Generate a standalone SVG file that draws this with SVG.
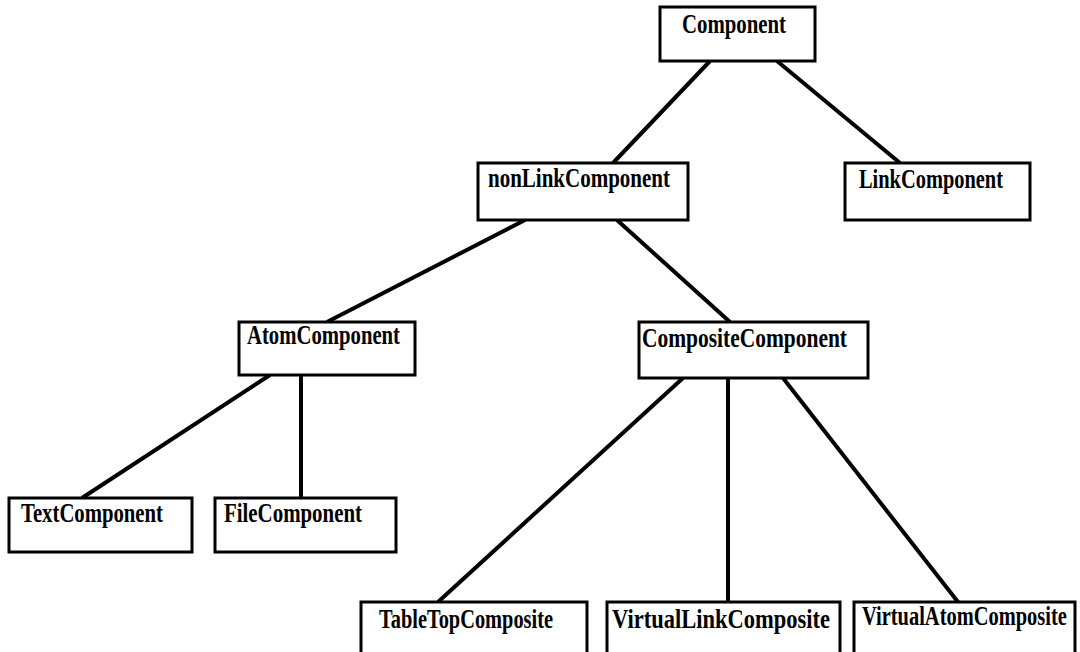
<svg xmlns="http://www.w3.org/2000/svg" width="1080" height="652" viewBox="0 0 1080 652">
  <style>
    .box { fill: #ffffff; stroke: #000000; stroke-width: 3; }
    .lbl { font-family: "Liberation Serif", "Times New Roman", serif; font-weight: bold; font-size: 27px; fill: #000000; }
    .edge { stroke: #000000; stroke-width: 4; fill: none; }
  </style>
  <rect width="1080" height="652" fill="#ffffff"/>

  <!-- inheritance links -->
  <g id="connectors">
    <line class="edge" x1="710" y1="61" x2="613" y2="163"/>
    <line class="edge" x1="777" y1="61" x2="900" y2="163"/>
    <line class="edge" x1="525" y1="220" x2="327" y2="322"/>
    <line class="edge" x1="617" y1="220" x2="730" y2="322"/>
    <line class="edge" x1="270" y1="375" x2="82" y2="498"/>
    <line class="edge" x1="301" y1="375" x2="301" y2="498"/>
    <line class="edge" x1="683" y1="378" x2="438" y2="602"/>
    <line class="edge" x1="728" y1="378" x2="728" y2="602"/>
    <line class="edge" x1="783" y1="378" x2="958" y2="602"/>
  </g>

  <g id="component">
    <rect class="box" x="660" y="7" width="155" height="54"/>
    <text class="lbl" x="682" y="33" textLength="104" lengthAdjust="spacingAndGlyphs">Component</text>
  </g>
  <g id="nonLinkComponent">
    <rect class="box" x="478" y="163" width="210" height="57"/>
    <text class="lbl" x="488" y="187" textLength="182" lengthAdjust="spacingAndGlyphs">nonLinkComponent</text>
  </g>
  <g id="linkComponent">
    <rect class="box" x="845" y="163" width="185" height="57"/>
    <text class="lbl" x="859" y="188" textLength="144" lengthAdjust="spacingAndGlyphs">LinkComponent</text>
  </g>
  <g id="atomComponent">
    <rect class="box" x="239" y="322" width="176" height="53"/>
    <text class="lbl" x="247" y="344" textLength="153" lengthAdjust="spacingAndGlyphs">AtomComponent</text>
  </g>
  <g id="compositeComponent">
    <rect class="box" x="639" y="322" width="229" height="56"/>
    <text class="lbl" x="642" y="347" textLength="205" lengthAdjust="spacingAndGlyphs">CompositeComponent</text>
  </g>
  <g id="textComponent">
    <rect class="box" x="9" y="498" width="183" height="54"/>
    <text class="lbl" x="21" y="522" textLength="142" lengthAdjust="spacingAndGlyphs">TextComponent</text>
  </g>
  <g id="fileComponent">
    <rect class="box" x="215" y="498" width="181" height="54"/>
    <text class="lbl" x="224" y="522" textLength="138" lengthAdjust="spacingAndGlyphs">FileComponent</text>
  </g>
  <g id="tableTopComposite">
    <rect class="box" x="361" y="602" width="226" height="70"/>
    <text class="lbl" x="379" y="628" textLength="174" lengthAdjust="spacingAndGlyphs">TableTopComposite</text>
  </g>
  <g id="virtualLinkComposite">
    <rect class="box" x="607" y="602" width="233" height="70"/>
    <text class="lbl" x="612" y="628" textLength="218" lengthAdjust="spacingAndGlyphs">VirtualLinkComposite</text>
  </g>
  <g id="virtualAtomComposite">
    <rect class="box" x="854" y="602" width="221" height="70"/>
    <!-- condensed by a horizontal scale so the label fits the box near the right edge -->
    <text class="lbl" transform="translate(862 625) scale(0.756 1)" x="0" y="0" textLength="271" lengthAdjust="spacingAndGlyphs">VirtualAtomComposite</text>
  </g>
</svg>
